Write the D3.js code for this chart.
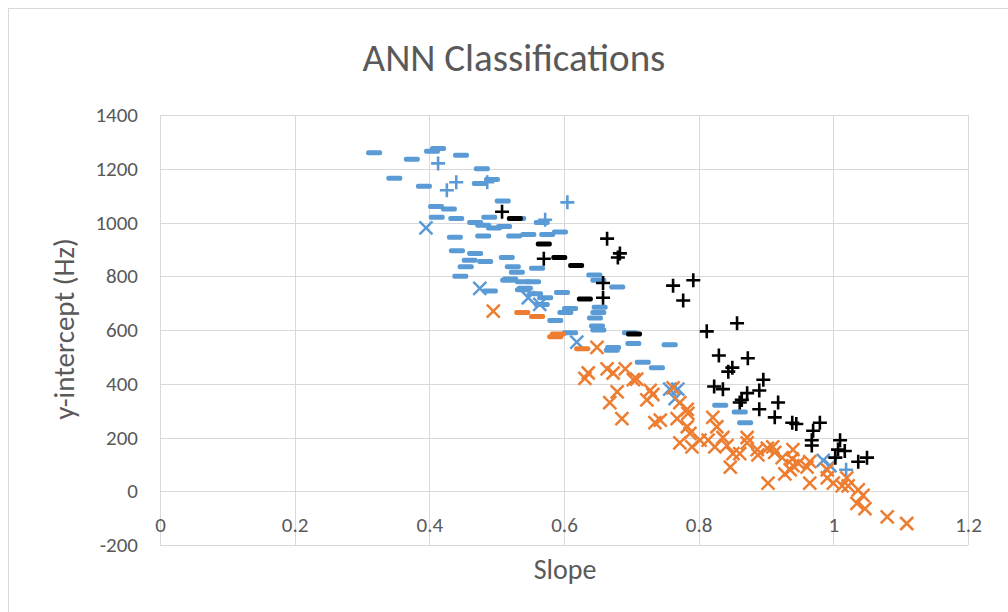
<!DOCTYPE html>
<html>
<head>
<meta charset="utf-8">
<script src="https://cdn.jsdelivr.net/npm/d3@7"></script>
<style>
  html, body { margin: 0; padding: 0; background: #fff; }
  svg { display: block; font-family: Carlito, Calibri, Lato, "Open Sans", sans-serif; }
</style>
</head>
<body>
<svg id="chart" width="1008" height="612"></svg>
<script>
// Axis ticks
const xTicks = [0, 0.2, 0.4, 0.6, 0.8, 1, 1.2];
const yTicks = [-200, 0, 200, 400, 600, 800, 1000, 1200, 1400];

// Classified points: [slope, y-intercept (Hz)]
const blueDash = [
  [0.318,1260],[0.374,1235],[0.404,1265],[0.413,1275],[0.447,1250],[0.348,1165],[0.392,1135],
  [0.478,1200],[0.475,1145],[0.493,1160],[0.410,1060],[0.429,1050],[0.411,1020],[0.440,1015],
  [0.509,1080],[0.489,1020],[0.468,1000],[0.480,990],[0.496,980],[0.511,985],[0.532,1015],
  [0.438,945],[0.480,950],[0.526,950],[0.547,955],[0.441,895],[0.468,885],[0.515,870],
  [0.460,860],[0.483,855],[0.454,835],[0.524,835],[0.530,815],[0.446,800],[0.517,785],
  [0.539,780],[0.490,745],[0.542,755],[0.567,1000],[0.575,955],[0.594,965],[0.560,830],
  [0.520,790],[0.554,780],[0.645,805],[0.651,785],[0.679,760],[0.539,750],[0.557,735],
  [0.597,740],[0.572,720],[0.567,695],[0.653,685],[0.651,665],[0.609,680],[0.602,665],
  [0.587,635],[0.646,645],[0.649,615],[0.651,600],[0.609,590],[0.673,535],[0.671,525],
  [0.703,550],[0.698,590],[0.757,545],[0.717,480],[0.738,460],[0.832,320],[0.861,295],[0.869,255]
];
const bluePlus = [
  [0.413,1220],[0.440,1150],[0.426,1120],[0.486,1150],[0.605,1075],[0.572,1010],[1.019,80]
];
const blueCross = [
  [0.395,980],[0.475,755],[0.547,720],[0.564,695],[0.619,555],[0.757,380],[0.769,380],
  [0.765,345],[0.985,115],[0.995,95]
];
const blackPlus = [
  [0.508,1040],[0.570,865],[0.658,775],[0.658,720],[0.664,940],[0.683,885],[0.680,870],
  [0.762,765],[0.792,785],[0.777,710],[0.812,595],[0.857,625],[0.830,505],[0.873,495],
  [0.850,460],[0.844,445],[0.823,390],[0.836,380],[0.896,415],[0.890,375],[0.872,365],
  [0.864,340],[0.861,330],[0.918,330],[0.890,305],[0.913,275],[0.939,255],[0.945,250],
  [0.980,255],[0.970,225],[0.968,190],[0.968,170],[1.010,190],[1.007,155],[1.017,150],
  [1.003,125],[1.050,125],[1.037,110]
];
const blackDash = [
  [0.527,1015],[0.570,920],[0.593,870],[0.618,840],[0.631,715],[0.704,585]
];
const orangeDash = [
  [0.538,665],[0.560,650],[0.587,575],[0.591,585],[0.627,530]
];
const orangeCross = [
  [0.495,670],[0.649,535],[0.636,440],[0.631,420],[0.664,455],[0.673,440],[0.691,455],
  [0.703,415],[0.708,417],[0.679,370],[0.668,330],[0.686,270],[0.728,375],[0.732,360],
  [0.723,340],[0.743,265],[0.735,255],[0.762,385],[0.772,330],[0.783,305],[0.784,290],
  [0.768,270],[0.783,240],[0.787,215],[0.772,180],[0.790,165],[0.814,190],[0.821,275],
  [0.827,240],[0.836,200],[0.842,170],[0.824,165],[0.847,90],[0.861,140],[0.872,180],
  [0.872,200],[0.851,140],[0.888,135],[0.903,30],[0.910,165],[0.924,125],[0.940,155],
  [0.936,80],[0.948,105],[0.902,160],[0.913,145],[0.939,120],[0.940,95],[0.928,65],
  [0.965,110],[0.965,30],[0.991,50],[1.000,30],[1.013,20],[1.022,20],[1.037,5],
  [1.044,-15],[1.035,-45],[1.047,-65],[1.080,-95],[1.109,-120],[1.020,50],[0.802,190],
  [0.887,155],[0.961,90],[0.991,80]
];

const BLUE = "#5B9BD5", ORANGE = "#ED7D31", BLACK = "#000000";
const TEXT = "#595959";
const FONT = "Carlito, Calibri, Lato, 'Open Sans', sans-serif";

const svg = d3.select("#chart");
const W = 1008, H = 612;
const plot = { left: 160, right: 968, top: 115, bottom: 545 };

// Chart frame
svg.append("rect")
  .attr("x", 8.5).attr("y", 8.5).attr("width", W + 20).attr("height", H + 20)
  .attr("fill", "#fff").attr("stroke", "#D9D9D9").attr("stroke-width", 1);

const x = d3.scaleLinear().domain([0, 1.2]).range([plot.left, plot.right]);
const y = d3.scaleLinear().domain([-200, 1400]).range([plot.bottom, plot.top]);

// Gridlines
const grid = svg.append("g").attr("stroke", "#D9D9D9").attr("stroke-width", 1);
grid.selectAll("line.h").data(yTicks).join("line").attr("class", "h")
  .attr("x1", plot.left).attr("x2", plot.right)
  .attr("y1", d => Math.round(y(d)) + 0.5).attr("y2", d => Math.round(y(d)) + 0.5);
grid.selectAll("line.v").data(xTicks).join("line").attr("class", "v")
  .attr("y1", plot.top).attr("y2", plot.bottom)
  .attr("x1", d => Math.round(x(d)) + 0.5).attr("x2", d => Math.round(x(d)) + 0.5);

// Y axis labels
const yAxis = d3.axisLeft(y).tickValues(yTicks).tickSize(0).tickPadding(0).tickFormat(d => String(d));
const gy = svg.append("g").attr("transform", `translate(${plot.left - 22},0)`).call(yAxis);
gy.select(".domain").remove();
gy.selectAll("text").attr("font-size", 21).attr("fill", TEXT).attr("font-family", FONT);

// X axis labels, placed beneath the zero line
const xAxis = d3.axisBottom(x).tickValues(xTicks).tickSize(0).tickPadding(0).tickFormat(d => String(d));
const gx = svg.append("g").attr("transform", `translate(0,${y(0) + 26})`).call(xAxis);
gx.select(".domain").remove();
gx.selectAll("text").attr("font-size", 21).attr("fill", TEXT).attr("font-family", FONT);

// Titles
svg.append("text").attr("x", 514).attr("y", 71).attr("text-anchor", "middle")
  .attr("font-size", 39).attr("fill", TEXT).text("ANN Classifications");
svg.append("text").attr("x", 565).attr("y", 579).attr("text-anchor", "middle")
  .attr("font-size", 28).attr("fill", TEXT).text("Slope");
svg.append("text").attr("transform", `translate(74,329) rotate(-90)`).attr("text-anchor", "middle")
  .attr("font-size", 29).attr("fill", TEXT).text("y-intercept (Hz)");

// Marker drawers
const marks = svg.append("g");
function dashes(data, color) {
  marks.append("g").selectAll("rect").data(data).join("rect")
    .attr("x", d => x(d[0]) - 8).attr("y", d => y(d[1]) - 2.5)
    .attr("width", 16).attr("height", 5).attr("rx", 2)
    .attr("fill", color);
}
function pluses(data, color) {
  const s = 7;
  marks.append("g").selectAll("path").data(data).join("path")
    .attr("d", d => {
      const cx = x(d[0]), cy = y(d[1]);
      return `M${cx - s},${cy}H${cx + s}M${cx},${cy - s}V${cy + s}`;
    })
    .attr("stroke", color).attr("stroke-width", 2.6).attr("fill", "none");
}
function crosses(data, color) {
  const s = 6.5;
  marks.append("g").selectAll("path").data(data).join("path")
    .attr("d", d => {
      const cx = x(d[0]), cy = y(d[1]);
      return `M${cx - s},${cy - s}L${cx + s},${cy + s}M${cx - s},${cy + s}L${cx + s},${cy - s}`;
    })
    .attr("stroke", color).attr("stroke-width", 2.5).attr("fill", "none");
}

dashes(blueDash, BLUE);
pluses(bluePlus, BLUE);
crosses(blueCross, BLUE);
crosses(orangeCross, ORANGE);
dashes(orangeDash, ORANGE);
pluses(blackPlus, BLACK);
dashes(blackDash, BLACK);
</script>
</body>
</html>
